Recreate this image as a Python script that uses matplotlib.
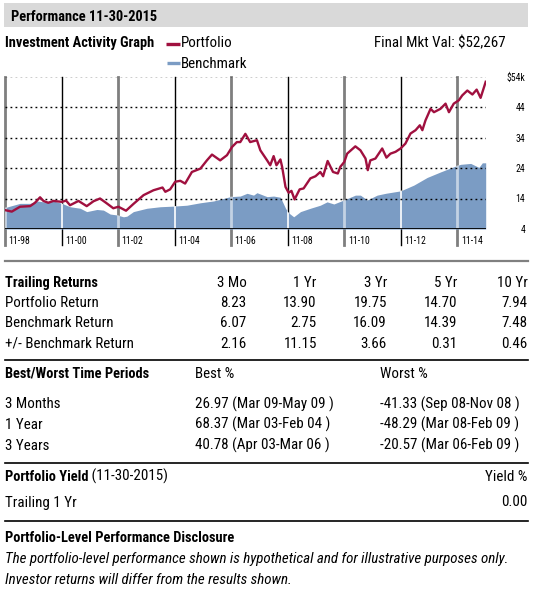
import matplotlib
matplotlib.use("Agg")
import matplotlib.pyplot as plt
from matplotlib import font_manager

# ---- data ----
# years since 11-98
port_t = [0.00, 0.24, 0.53, 0.89, 1.06, 1.24, 1.36, 1.53, 1.71, 2.01, 2.16, 2.30, 2.60, 2.89,
          3.13, 3.36, 3.60, 3.83, 4.01, 4.28, 4.54, 4.90, 5.25, 5.57, 5.67, 5.84, 6.02, 6.20,
          6.37, 6.61, 6.91, 7.14, 7.32, 7.61, 7.85, 8.03, 8.20, 8.32, 8.50, 8.67, 8.91, 9.03,
          9.27, 9.38, 9.50, 9.60, 9.74, 9.80, 9.92, 10.03, 10.13, 10.24, 10.42, 10.56, 10.80,
          10.98, 11.15, 11.25, 11.41, 11.60, 11.77, 11.86, 12.00, 12.10, 12.39, 12.57, 12.75,
          12.83, 12.92, 13.10, 13.34, 13.49, 13.63, 13.81, 13.99, 14.16, 14.34, 14.52, 14.67,
          14.76, 14.87, 15.05, 15.17, 15.40, 15.58, 15.70, 15.87, 16.05, 16.17, 16.35, 16.53,
          16.68, 16.82, 16.94, 17.00]
port_v = [10.2, 9.7, 11.3, 11.5, 12.6, 14.4, 13.2, 12.6, 13.2, 12.9, 13.3, 11.8, 13.2, 11.5,
          13.1, 14.0, 12.4, 10.8, 11.3, 10.0, 12.2, 15.1, 16.7, 17.6, 16.2, 17.0, 19.5, 19.8,
          18.9, 22.7, 23.8, 26.5, 28.4, 26.5, 28.2, 30.9, 32.5, 32.5, 35.2, 32.5, 33.1, 29.8,
          26.5, 24.9, 27.9, 24.9, 26.8, 24.4, 17.8, 15.9, 16.5, 13.7, 17.0, 17.3, 20.6,
          21.3, 22.7, 21.3, 26.3, 22.7, 22.2, 24.4, 26.0, 28.7, 31.1, 29.8, 27.1,
          23.3, 26.5, 27.1, 30.4, 27.4, 28.7, 29.3, 30.4, 32.0, 35.3, 36.4, 38.0,
          36.4, 39.6, 43.4, 42.3, 43.4, 45.1, 42.3, 45.1, 46.2, 47.8, 49.4, 48.1,
          49.7, 47.0, 50.5, 52.267]

bench_t = [0.00, 0.18, 0.53, 0.89, 1.12, 1.36, 1.71, 2.01, 2.30, 2.66, 2.89, 3.25, 3.48, 3.72,
           3.96, 4.19, 4.31, 4.54, 5.02, 5.49, 5.96, 6.43, 6.91, 7.38, 7.97, 8.32, 8.56, 8.79,
           8.91, 9.27, 9.50, 9.74, 9.92, 10.03, 10.21, 10.45, 10.80, 11.15, 11.39, 11.63, 11.98,
           12.39, 12.57, 12.81, 13.16, 13.46, 13.99, 14.46, 14.93, 15.40, 15.87, 16.11, 16.47,
           16.76, 16.88, 17.00]
bench_v = [11.0, 11.5, 12.4, 12.4, 13.2, 12.9, 13.2, 12.4, 11.3, 10.8, 9.7, 10.4, 10.2, 8.9,
           8.6, 8.0, 8.2, 9.7, 10.8, 11.3, 11.5, 11.8, 12.6, 13.2, 14.6, 14.8, 15.7, 15.1,
           15.9, 14.6, 14.8, 14.4, 10.8, 9.3, 8.0, 9.7, 10.8, 11.8, 12.9, 12.2, 13.5,
           15.1, 15.1, 13.5, 15.1, 15.7, 16.5, 18.4, 20.9, 22.7, 24.4, 25.2, 25.5,
           24.2, 25.7, 25.7]

x_ticks = [0, 2, 4, 6, 8, 10, 12, 14, 16]
x_labels = ['11-98', '11-00', '11-02', '11-04', '11-06', '11-08', '11-10', '11-12', '11-14']
y_ticks = [4, 14, 24, 34, 44, 54]
y_labels = ['4', '14', '24', '34', '44', '$54k']

periods = ['3 Mo', '1 Yr', '3 Yr', '5 Yr', '10 Yr']
row_names = ['Portfolio Return', 'Benchmark Return', '+/- Benchmark Return']
portfolio_ret = [8.23, 13.90, 19.75, 14.70, 7.94]
benchmark_ret = [6.07, 2.75, 16.09, 14.39, 7.48]
diff_ret = [2.16, 11.15, 3.66, 0.31, 0.46]

bw_labels = ['3 Months', '1 Year', '3 Years']
best_vals = [26.97, 68.37, 40.78]
best_periods = ['Mar 09-May 09', 'Mar 03-Feb 04', 'Apr 03-Mar 06']
worst_vals = [-41.33, -48.29, -20.57]
worst_periods = ['Sep 08-Nov 08', 'Mar 08-Feb 09', 'Mar 06-Feb 09']

yield_val = 0.00
final_val = 52267

# ---- fonts: a condensed sans, like the original ----
names = {f.name for f in font_manager.fontManager.ttflist}
FONT = 'Liberation Sans'
for cand in ['Roboto Condensed', 'Fira Sans Condensed', 'IBM Plex Sans Condensed',
             'Barlow Semi Condensed', 'Asap Condensed']:
    if cand in names:
        FONT = cand
        break
if FONT != 'Liberation Sans':
    FS, FSB, SMALL = 10.8, 10.4, 7.0
else:
    FS, FSB, SMALL = 9.3, 9.0, 5.8
plt.rcParams['font.family'] = [FONT, 'DejaVu Sans']

RED = '#a0103f'
BLUE = '#7b9cc4'
W, H = 536, 598

fig = plt.figure(figsize=(W / 100, H / 100), dpi=100)
bg = fig.add_axes([0, 0, 1, 1])
bg.set_xlim(0, W)
bg.set_ylim(H, 0)
bg.axis('off')

# header band
bg.add_patch(plt.Rectangle((4, 3), 524, 24, color='#d9d9d9', lw=0))
bg.text(11, 20.8, 'Performance 11-30-2015', fontsize=FSB, fontweight='bold', va='baseline')

# chart heading + legend
bg.text(5, 47, 'Investment Activity Graph', fontsize=FSB, fontweight='bold', va='baseline')
bg.plot([166, 180], [43.5, 43.5], color=RED, lw=2.4, solid_capstyle='butt')
bg.text(181, 47, 'Portfolio', fontsize=FS, va='baseline')
bg.plot([167, 180], [62.7, 62.7], color=BLUE, lw=2.4, solid_capstyle='butt')
bg.text(181, 67.7, 'Benchmark', fontsize=FS, va='baseline')
bg.text(506, 47, f'Final Mkt Val: ${final_val:,}', fontsize=FS, va='baseline', ha='right')

# ---- chart ----
ax = fig.add_axes([5 / W, 1 - 229 / H, (485.7 - 5) / W, (229 - 76.5) / H])
ax.set_xlim(0, 17)
ax.set_ylim(4, 54)
for s in ax.spines.values():
    s.set_visible(False)

gray_years = x_ticks[0::2]
black_years = x_ticks[1::2]
for t in gray_years:
    ax.axvline(t, ymin=-0.105, ymax=1, color='#7f7f7f', lw=2.0, clip_on=False, zorder=1)
for t in black_years:
    ax.axvline(t, ymin=-0.105, ymax=1, color='black', lw=1.0, clip_on=False, zorder=1)

fill = ax.fill_between(bench_t, 4, bench_v, color=BLUE, lw=0, zorder=2)
clip = fill.get_paths()[0]
wg = ax.vlines(gray_years, 4, 54, colors='white', lw=2.0, alpha=0.55, zorder=3)
wb = ax.vlines(black_years, 4, 54, colors='white', lw=1.2, zorder=3)
wg.set_clip_path(clip, ax.transData)
wb.set_clip_path(clip, ax.transData)

for v in y_ticks[1:]:
    ax.axhline(v, color='black', lw=1.0, ls=(0, (1.3, 2.3)), zorder=4)
ax.axhline(4, color='black', lw=1.3, zorder=4)

ax.plot(port_t, port_v, color=RED, lw=1.7, zorder=5, solid_joinstyle='round')

ax.set_xticks([])
for t, lab in zip(x_ticks, x_labels):
    ax.annotate(lab, xy=(t, 4), xycoords='data', xytext=(2.5, -8.5), textcoords='offset points',
                fontsize=SMALL, ha='left', va='center', annotation_clip=False)

ax.yaxis.tick_right()
ax.set_yticks(y_ticks)
ax.set_yticklabels(y_labels)
ax.tick_params(axis='y', length=0, pad=28.5, labelsize=SMALL)
for lbl in ax.get_yticklabels():
    lbl.set_horizontalalignment('right')

# ---- trailing returns table ----
bg.plot([5, 528], [261.3, 261.3], color='#808080', lw=1.6)
col_right = [246.6, 316.8, 387, 457, 527.4]
bg.text(5, 287, 'Trailing Returns', fontsize=FSB, fontweight='bold', va='baseline')
for x, p in zip(col_right, periods):
    bg.text(x, 287, p, fontsize=FS, va='baseline', ha='right')
row_y = [306.8, 327.3, 347.9]
for y, name, vals in zip(row_y, row_names, [portfolio_ret, benchmark_ret, diff_ret]):
    bg.text(5, y, name, fontsize=FS, va='baseline')
    for x, v in zip(col_right, vals):
        bg.text(x, y, f'{v:.2f}', fontsize=FS, va='baseline', ha='right')
bg.plot([5, 528], [360, 360], color='black', lw=1.2)

# ---- best / worst ----
bg.text(5, 377.5, 'Best/Worst Time Periods', fontsize=FSB, fontweight='bold', va='baseline')
bg.text(195, 377.5, 'Best %', fontsize=FS, va='baseline')
bg.text(380, 377.5, 'Worst %', fontsize=FS, va='baseline')
bw_y = [408.5, 429, 449.5]
for y, lab, bv, bp, wv, wp in zip(bw_y, bw_labels, best_vals, best_periods, worst_vals, worst_periods):
    bg.text(5, y, lab, fontsize=FS, va='baseline')
    bg.text(195, y, f'{bv:.2f} ({bp} )', fontsize=FS, va='baseline')
    bg.text(380, y, f'{wv:.2f} ({wp} )', fontsize=FS, va='baseline')
bg.plot([5, 528], [463, 463], color='black', lw=1.2)

# ---- yield ----
t1 = bg.text(5, 481, 'Portfolio Yield', fontsize=FSB, fontweight='bold', va='baseline')
bg.annotate(' (11-30-2015)', xy=(1, 0), xycoords=t1, fontsize=FS, va='bottom', ha='left')
bg.text(527.4, 481, 'Yield %', fontsize=FS, va='baseline', ha='right')
bg.text(5, 506.5, 'Trailing 1 Yr', fontsize=FS, va='baseline')
bg.text(527.4, 506.5, f'{yield_val:.2f}', fontsize=FS, va='baseline', ha='right')
bg.plot([5, 528], [521, 521], color='black', lw=1.2)

# ---- disclosure ----
bg.text(5, 541.5, 'Portfolio-Level Performance Disclosure', fontsize=FSB, fontweight='bold', va='baseline')
bg.text(5, 563, 'The portfolio-level performance shown is hypothetical and for illustrative purposes only.',
        fontsize=FS, style='italic', va='baseline')
bg.text(5, 584.5, 'Investor returns will differ from the results shown.',
        fontsize=FS, style='italic', va='baseline')

fig.savefig('out.png', dpi=100)
